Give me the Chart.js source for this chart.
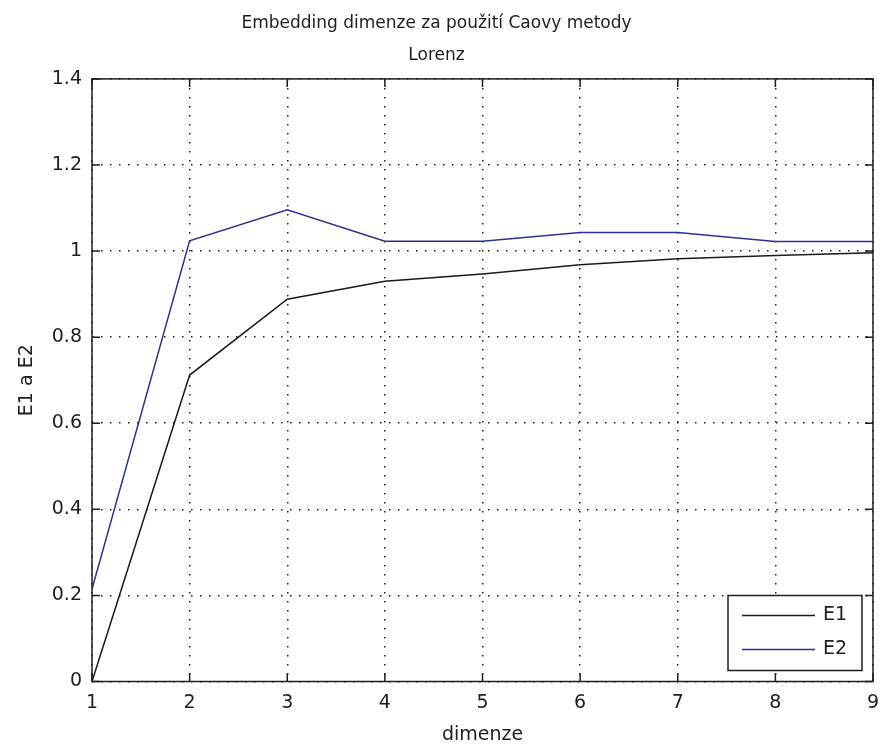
<!DOCTYPE html>
<html>
<head>
<meta charset="utf-8">
<script src="https://cdn.jsdelivr.net/npm/chart.js@4/dist/chart.umd.min.js"></script>
<style>
  html, body { margin: 0; padding: 0; background: #fff; }
  #wrap { width: 883px; height: 746px; }
</style>
</head>
<body>
<div id="wrap"><canvas id="chart" width="883" height="746"></canvas></div>
<script>
const DIMENSIONS = [1, 2, 3, 4, 5, 6, 7, 8, 9];
const E1 = [0, 0.712, 0.888, 0.93, 0.947, 0.968, 0.982, 0.99, 0.996];
const E2 = [0.215, 1.024, 1.096, 1.023, 1.023, 1.043, 1.043, 1.022, 1.022];
const TITLE_LINES = ['Embedding dimenze za použití Caovy metody', 'Lorenz'];

const FONT = '"DejaVu Sans", "Liberation Sans", Arial, sans-serif';
const INK = '#1e1e1e';
const E1_COLOR = '#1a1a1a';
const E2_COLOR = '#2f2f98';

const toPoints = (ys) => DIMENSIONS.map((x, i) => ({ x, y: ys[i] }));

// axes box plus inward tick marks on all four sides
const frame = {
  id: 'frame',
  afterDatasetsDraw(chart) {
    const { ctx, chartArea: a, scales } = chart;
    const len = 8;
    ctx.save();
    ctx.strokeStyle = INK;
    ctx.lineWidth = 1.5;
    ctx.beginPath();
    scales.x.ticks.forEach((t) => {
      const px = scales.x.getPixelForValue(t.value);
      ctx.moveTo(px, a.bottom); ctx.lineTo(px, a.bottom - len);
      ctx.moveTo(px, a.top); ctx.lineTo(px, a.top + len);
    });
    scales.y.ticks.forEach((t) => {
      const py = scales.y.getPixelForValue(t.value);
      ctx.moveTo(a.left, py); ctx.lineTo(a.left + len, py);
      ctx.moveTo(a.right, py); ctx.lineTo(a.right - len, py);
    });
    ctx.stroke();
    ctx.strokeRect(a.left, a.top, a.right - a.left, a.bottom - a.top);
    ctx.restore();
  },
};

// MATLAB-like legend box in the lower right corner
const boxLegend = {
  id: 'boxLegend',
  afterDraw(chart) {
    const { ctx, chartArea: a } = chart;
    const w = 134, h = 75;
    const x0 = a.right - 11 - w, y0 = a.bottom - 11 - h;
    ctx.save();
    ctx.fillStyle = '#fff';
    ctx.fillRect(x0, y0, w, h);
    ctx.strokeStyle = INK;
    ctx.lineWidth = 1.5;
    ctx.strokeRect(x0, y0, w, h);
    ctx.font = '19px ' + FONT;
    ctx.textBaseline = 'middle';
    chart.data.datasets.forEach((ds, i) => {
      const yy = y0 + 20 + i * 34;
      ctx.strokeStyle = ds.borderColor;
      ctx.lineWidth = 1.5;
      ctx.beginPath();
      ctx.moveTo(x0 + 14, yy);
      ctx.lineTo(x0 + 87, yy);
      ctx.stroke();
      ctx.fillStyle = INK;
      ctx.fillText(ds.label, x0 + 95, yy);
    });
    ctx.restore();
  },
};

new Chart(document.getElementById('chart'), {
  type: 'line',
  data: {
    datasets: [
      { label: 'E1', data: toPoints(E1), borderColor: E1_COLOR, borderWidth: 1.5, pointRadius: 0, tension: 0 },
      { label: 'E2', data: toPoints(E2), borderColor: E2_COLOR, borderWidth: 1.5, pointRadius: 0, tension: 0 },
    ],
  },
  options: {
    responsive: false,
    animation: false,
    layout: { padding: { top: 0, right: 10, bottom: 0, left: 0 } },
    plugins: {
      legend: { display: false },
      tooltip: { enabled: false },
      title: {
        display: true,
        text: TITLE_LINES,
        color: INK,
        font: { family: FONT, size: 17, weight: 'normal', lineHeight: 1.85 },
        padding: { top: 8, bottom: 8 },
      },
    },
    scales: {
      x: {
        type: 'linear',
        min: 1,
        max: 9,
        afterFit: (s) => { s.height = 64.5; s.paddingLeft = 0; s.paddingRight = 0; },
        ticks: { stepSize: 1, color: INK, padding: 10, font: { family: FONT, size: 19 } },
        grid: { color: INK, lineWidth: 1.5, drawTicks: false },
        border: { display: false, dash: [1.5, 7.5] },
        title: { display: true, text: 'dimenze', color: INK, font: { family: FONT, size: 19 }, padding: { top: 0, bottom: 0 } },
      },
      y: {
        type: 'linear',
        min: 0,
        max: 1.4,
        afterFit: (s) => { s.width = 92; s.paddingTop = 0; s.paddingBottom = 0; },
        ticks: {
          stepSize: 0.2,
          color: INK,
          padding: 10,
          font: { family: FONT, size: 19 },
          callback: (v) => String(Number(v.toFixed(1))),
        },
        grid: { color: INK, lineWidth: 1.5, drawTicks: false },
        border: { display: false, dash: [1.5, 7.5] },
        title: { display: true, text: 'E1 a E2', color: INK, font: { family: FONT, size: 19 }, padding: { top: 16, bottom: 8 } },
      },
    },
  },
  plugins: [frame, boxLegend],
});
</script>
</body>
</html>
